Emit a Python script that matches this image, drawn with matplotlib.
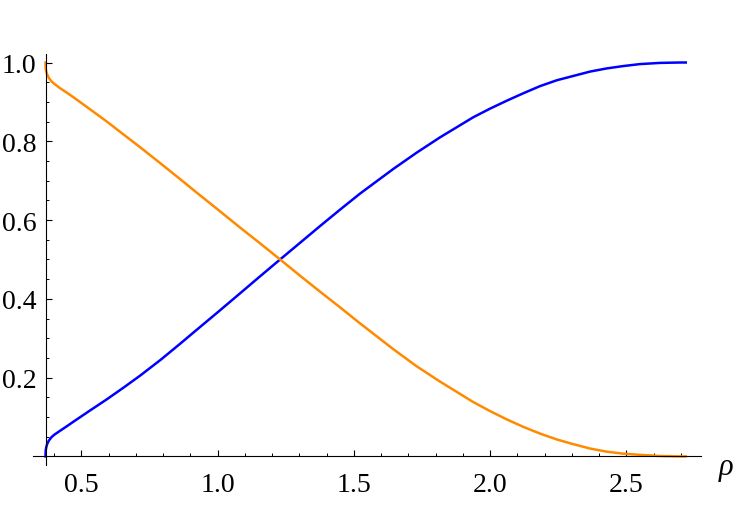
"""Two complementary curves on rho in [1/e, e], Mathematica-style axes."""
import matplotlib
matplotlib.use("Agg")
import matplotlib.pyplot as plt
from matplotlib.ticker import MultipleLocator, FixedLocator

# values
rho_blue = [0.368, 0.3681, 0.3685, 0.369, 0.370, 0.372, 0.375, 0.380, 0.390,
            0.400, 0.421, 0.445, 0.470, 0.530, 0.593, 0.655, 0.715, 0.790,
            0.862, 0.917, 1.000, 1.082, 1.150, 1.229, 1.300, 1.376, 1.450,
            1.522, 1.645, 1.730, 1.816, 1.938, 2.000, 2.061, 2.122, 2.183,
            2.245, 2.306, 2.367, 2.428, 2.489, 2.550, 2.624, 2.697, 2.718]
blue = [0.000, 0.006, 0.013, 0.017, 0.021, 0.027, 0.033, 0.040, 0.049,
        0.055, 0.065, 0.076, 0.088, 0.116, 0.145, 0.175, 0.205, 0.245,
        0.286, 0.318, 0.366, 0.414, 0.454, 0.500, 0.541, 0.585, 0.627,
        0.667, 0.730, 0.771, 0.810, 0.861, 0.883, 0.903, 0.922, 0.940,
        0.955, 0.966, 0.977, 0.985, 0.991, 0.996, 0.999, 1.000, 1.000]

rho_orange = [0.368, 0.3681, 0.3685, 0.369, 0.370, 0.372, 0.375, 0.380, 0.390,
              0.400, 0.421, 0.445, 0.470, 0.530, 0.593, 0.655, 0.715, 0.790,
              0.862, 0.917, 1.000, 1.082, 1.150, 1.229, 1.300, 1.376, 1.450,
              1.522, 1.645, 1.730, 1.816, 1.938, 2.000, 2.061, 2.122, 2.183,
              2.245, 2.306, 2.367, 2.428, 2.489, 2.550, 2.624, 2.697, 2.718]
orange = [1.000, 0.994, 0.987, 0.983, 0.979, 0.974, 0.968, 0.961, 0.952,
          0.946, 0.935, 0.924, 0.912, 0.882, 0.850, 0.817, 0.785, 0.744,
          0.704, 0.673, 0.627, 0.581, 0.544, 0.500, 0.460, 0.418, 0.378,
          0.338, 0.272, 0.229, 0.190, 0.138, 0.115, 0.094, 0.075, 0.058,
          0.043, 0.031, 0.020, 0.012, 0.007, 0.004, 0.001, 0.000, 0.000]

x_major = [0.5, 1.0, 1.5, 2.0, 2.5]
x_minor = [0.4, 0.6, 0.7, 0.8, 0.9, 1.1, 1.2, 1.3, 1.4, 1.6, 1.7, 1.8, 1.9,
           2.1, 2.2, 2.3, 2.4, 2.6, 2.7]
y_major = [0.2, 0.4, 0.6, 0.8, 1.0]
x_origin = 0.3679

W, H = 736, 506
fig = plt.figure(figsize=(W / 100, H / 100), dpi=100, facecolor="white")
ax = fig.add_axes([33 / W, 1 - 465.5 / H, (701 - 33) / W, (465.5 - 55) / H])

ax.plot(rho_blue, blue, color="#0000ff", lw=1.8, solid_joinstyle="round")
ax.plot(rho_orange, orange, color="#ff8a00", lw=1.8, solid_joinstyle="round")

ax.set_xlim(0.322, 2.774)
ax.set_ylim(-0.0205, 1.0216)

for s in ("top", "right"):
    ax.spines[s].set_visible(False)
ax.spines["left"].set_position(("data", x_origin))
ax.spines["bottom"].set_position(("data", 0))
for s in ("left", "bottom"):
    ax.spines[s].set_linewidth(0.8)

ax.xaxis.set_major_locator(FixedLocator(x_major))
ax.xaxis.set_minor_locator(FixedLocator(x_minor))
ax.yaxis.set_major_locator(FixedLocator(y_major))
ax.yaxis.set_minor_locator(MultipleLocator(0.05))
ax.set_xticklabels([f"{v:.1f}" for v in x_major])
ax.set_yticklabels([f"{v:.1f}" for v in y_major])

serif = ["Liberation Serif", "DejaVu Serif"]
ax.tick_params(which="major", direction="in", length=4, width=0.8, labelsize=20)
ax.tick_params(which="minor", direction="in", length=2.3, width=0.7)
ax.tick_params(axis="x", which="major", pad=11)
ax.tick_params(axis="y", which="major", pad=6.5)
for lab in ax.get_xticklabels() + ax.get_yticklabels():
    lab.set_family(serif)

fig.text(726 / W, 1 - 468 / H, "ρ", family=serif, style="italic", fontsize=22,
         ha="center", va="center")

fig.savefig("out.png", dpi=100, facecolor="white")
